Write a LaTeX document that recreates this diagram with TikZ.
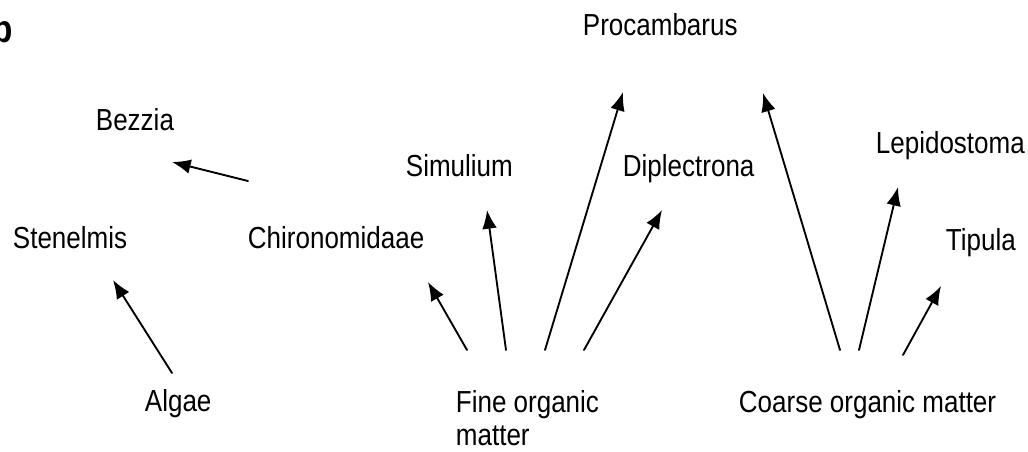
\documentclass[tikz,border=0pt]{standalone}
\usepackage{fontspec}
\setmainfont{Liberation Sans}
\usetikzlibrary{arrows.meta}
\begin{document}
\begin{tikzpicture}[x=.75pt,y=-.75pt,line width=1.4pt,line cap=round,
  feeds/.style={-{Latex[length=14pt,width=11pt]}},
  taxon/.style={anchor=base west,inner sep=0pt,yscale=1.17,
    font=\fontsize{19.5}{21.2}\selectfont}]
  \useasboundingbox (0,0) rectangle (1028,451);
  % panel letter, cut at the left edge
  \node[anchor=base east,inner sep=0pt,yscale=1.17,
    font=\fontsize{25}{30}\selectfont\bfseries] (panel) at (14,42) {b};
  % consumers
  \node[taxon] (procambarus) at (582,35) {Procambarus};
  \node[taxon] (bezzia) at (95,130) {Bezzia};
  \node[taxon] (lepidostoma) at (875,153) {Lepidostoma};
  \node[taxon] (simulium) at (405,176) {Simulium};
  \node[taxon] (diplectrona) at (622,176) {Diplectrona};
  \node[taxon] (tipula) at (945,250) {Tipula};
  \node[taxon] (stenelmis) at (12,248) {Stenelmis};
  \node[taxon] (chironomidae) at (247,248) {Chironomidaae};
  % food sources
  \node[taxon] (algae) at (144,411) {Algae};
  \node[taxon,anchor=north west,align=left] (fom) at (455,389)
    {Fine organic\\matter};
  \node[taxon] (com) at (738,412) {Coarse organic matter};
  % arrow ends
  \coordinate (chiro-t) at (248,181);  \coordinate (bezzia-h) at (172,162);
  \coordinate (algae-t) at (172,373);  \coordinate (steno-h) at (113,280);
  \coordinate (fom-1) at (467,350);    \coordinate (chiro-h) at (428,282);
  \coordinate (fom-2) at (506,350);    \coordinate (simu-h) at (487,210);
  \coordinate (fom-3) at (545,350);    \coordinate (proc-h1) at (623,92);
  \coordinate (fom-4) at (584,350);    \coordinate (dipl-h) at (662,210);
  \coordinate (com-1) at (840,350);    \coordinate (proc-h2) at (763,93);
  \coordinate (com-2) at (859,350);    \coordinate (lepi-h) at (898,187);
  \coordinate (com-3) at (903,355);    \coordinate (tipu-h) at (941,286);
  % (left): algae and midges
  \draw[feeds] (chiro-t)--(bezzia-h);
  \draw[feeds] (algae-t)--(steno-h);
  % (middle): fine organic matter fans out
  \draw[feeds] (fom-1)--(chiro-h);
  \draw[feeds] (fom-2)--(simu-h);
  \draw[feeds] (fom-3)--(proc-h1);
  \draw[feeds] (fom-4)--(dipl-h);
  % (right): coarse organic matter fans out
  \draw[feeds] (com-1)--(proc-h2);
  \draw[feeds] (com-2)--(lepi-h);
  \draw[feeds] (com-3)--(tipu-h);
\end{tikzpicture}
\end{document}
